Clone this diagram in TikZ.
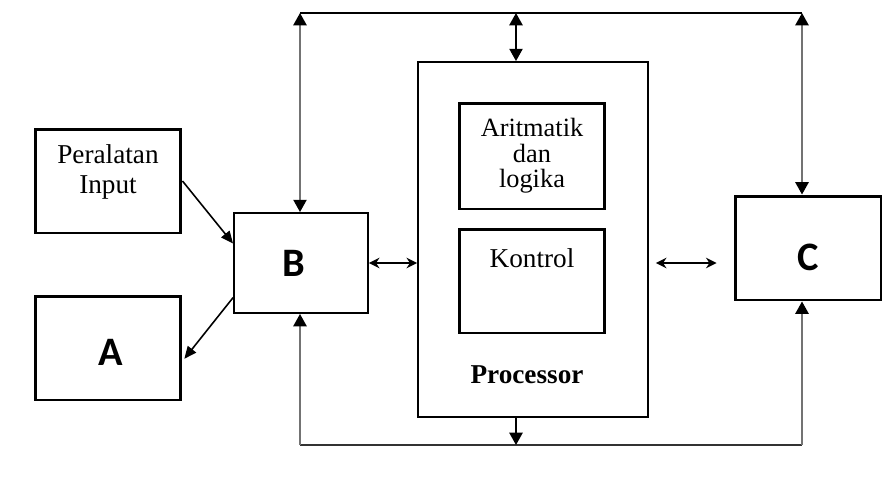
\documentclass[tikz,border=0pt]{standalone}
\usepackage{fontspec}
\setmainfont{Liberation Serif}
\newfontfamily\hurufbesar{Carlito}
\usepackage{tikz}
\usetikzlibrary{arrows.meta}

\begin{document}
\begin{tikzpicture}[x=0.02cm, y=-0.02cm,
  tebal/.style={draw, line width=1.7pt, inner sep=0pt},
  tipis/.style={draw, line width=1.1pt, inner sep=0pt},
  huruf/.style={font=\hurufbesar\bfseries\fontsize{23}{25}\selectfont},
  bus/.style={line width=1.1pt},
  segitiga/.style={{Triangle[length=7pt,width=7.5pt,color=black]}-{Triangle[length=7pt,width=7.5pt,color=black]}},
  ujung/.style={-{Triangle[length=7pt,width=7.5pt,color=black]}},
  panah/.style={line width=0.9pt, -{Triangle[length=7pt,width=6pt]}}]
\useasboundingbox (0,0) rectangle (896,478);
% Kotak-kotak
\node[tebal, minimum width=2.92cm, minimum height=2.08cm] (inp) at (108,181) {};
\node[align=center, font=\fontsize{15.5}{17.5}\selectfont] (inptxt) at (108,172) {Peralatan\\Input};
\node[tebal, minimum width=2.92cm, minimum height=2.08cm] (A) at (108,348) {};
\node[huruf] (Atxt) at (111,352) {A};
\node[tipis, minimum width=2.68cm, minimum height=2.0cm] (B) at (301,263) {};
\node[huruf] (Btxt) at (294,263) {B};
\node[tipis, minimum width=4.6cm, minimum height=7.1cm] (proc) at (533,239.5) {};
\node[tebal, minimum width=2.92cm, minimum height=2.12cm, align=center,
      font=\fontsize{15}{14.5}\selectfont] (alu) at (532,156) {Aritmatik\\dan\\logika};
\node[tebal, minimum width=2.92cm, minimum height=2.08cm] (ctl) at (532,281) {};
\node[font=\fontsize{15.5}{17}\selectfont] (ctltxt) at (532,258) {Kontrol};
\node[font=\bfseries\fontsize{15.5}{17}\selectfont] (proctxt) at (527,375) {Processor};
\node[tebal, minimum width=2.92cm, minimum height=2.08cm] (C) at (808,248) {};
\node[huruf] (Ctxt) at (808,257) {C};
% Titik bus
\coordinate (tl) at (300,13);
\coordinate (tm) at (516,13);
\coordinate (tr) at (802,13);
\coordinate (bl) at (300,445);
\coordinate (bm) at (516,445);
\coordinate (br) at (802,445);
% Bus atas
\draw[bus] (tl) -- (tr);
\draw[bus, black!55, segitiga] (tl) -- (tl |- B.north);
\draw[bus, black!55, segitiga] (tr) -- (tr |- C.north);
\draw[bus, segitiga] (tm) -- (tm |- proc.north);
% Bus bawah
\draw[bus, black!80] (bl) -- (br);
\draw[bus, black!55, ujung] (bl) -- (bl |- B.south);
\draw[bus, black!55, ujung] (br) -- (br |- C.south);
\draw[bus, ujung] (bm |- proc.south) -- (bm);
% Panah mendatar
\draw[line width=1pt, {Stealth[length=6pt,width=6pt]}-{Stealth[length=6pt,width=6pt]}] (B.east) -- (proc.west |- B.east);
\draw[line width=1pt, {Stealth[length=6pt,width=6pt]}-{Stealth[length=6pt,width=6pt]},
      shorten <=0.14cm, shorten >=0.34cm] (proc.east |- B.east) -- (C.west |- B.east);
% Masukan dan keluaran
\draw[panah] (inp.east) -- (B.164);
\draw[panah, shorten >=0.06cm] (B.207) -- (A.-10);
\end{tikzpicture}
\end{document}
